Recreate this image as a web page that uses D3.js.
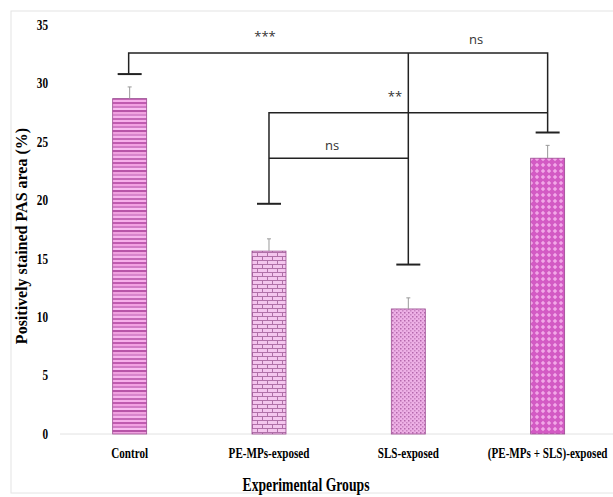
<!DOCTYPE html>
<html>
<head>
<meta charset="utf-8">
<script src="https://cdn.jsdelivr.net/npm/d3@7"></script>
<style>
  body { margin: 0; background: #fff; }
  text { font-family: "Liberation Serif", "Times New Roman", serif; }
  text.sig { font-family: "Open Sans", "DejaVu Sans", sans-serif; }
</style>
</head>
<body>
<svg id="chart" width="613" height="497"></svg>
<script>
const groups = ["Control", "PE-MPs-exposed", "SLS-exposed", "(PE-MPs + SLS)-exposed"];
const means = [28.7, 15.65, 10.7, 23.6];
const errors = [1.0, 1.05, 0.95, 1.1];
const yTicks = [0, 5, 10, 15, 20, 25, 30, 35];
const patternIds = ["p-stripes", "p-brick", "p-dots", "p-diamond"];

// significance: cap heights per bar, bracket levels and labels
const caps = [30.8, 19.7, 14.5, 25.8];
const sigLabels = [
  { label: "***", lx: 265, ly: 34.0 },
  { label: "ns", lx: 476, ly: 33.8 },
  { label: "**", lx: 395, ly: 28.9 },
  { label: "ns", lx: 332, ly: 24.7 }
];

const svg = d3.select("#chart");

const x = d3.scaleBand()
  .domain(groups)
  .range([60, 617.3])
  .paddingInner(0.756)
  .paddingOuter(0.378);

const y = d3.scaleLinear()
  .domain([0, 35])
  .range([434, 25]);

// frame
svg.append("rect")
  .attr("x", 11).attr("y", 11)
  .attr("width", 610).attr("height", 482)
  .attr("fill", "none")
  .attr("stroke", "#e4e4e4");

// patterns
const defs = svg.append("defs");

const p1 = defs.append("pattern").attr("id", patternIds[0])
  .attr("patternUnits", "userSpaceOnUse").attr("width", 8).attr("height", 20);
const stripeCols = ["#f6aeea", "#c05ab0", "#f2a0e2", "#d27ac6", "#f8bcf0", "#b854a8", "#f0a2e0", "#d884cc", "#f6b4ec", "#c466b6"];
stripeCols.forEach((c, i) => {
  p1.append("rect").attr("x", 0).attr("y", i * 2).attr("width", 8).attr("height", 2).attr("fill", c);
});

const p2 = defs.append("pattern").attr("id", patternIds[1])
  .attr("patternUnits", "userSpaceOnUse").attr("width", 10).attr("height", 8);
p2.append("rect").attr("width", 10).attr("height", 8).attr("fill", "#f4c6ee");
p2.append("path").attr("d", "M0,0.5H10M0,4.5H10M2.5,0V4.5M7.5,4.5V8")
  .attr("stroke", "#b070a8").attr("stroke-width", 1).attr("fill", "none");

const p3 = defs.append("pattern").attr("id", patternIds[2])
  .attr("patternUnits", "userSpaceOnUse").attr("width", 4).attr("height", 4);
p3.append("rect").attr("width", 4).attr("height", 4).attr("fill", "#eeb0e6");
p3.append("rect").attr("x", 0).attr("y", 0).attr("width", 1.5).attr("height", 1.5).attr("fill", "#b468ac");
p3.append("rect").attr("x", 2).attr("y", 2).attr("width", 1.5).attr("height", 1.5).attr("fill", "#c884c0");

const p4 = defs.append("pattern").attr("id", patternIds[3])
  .attr("patternUnits", "userSpaceOnUse").attr("width", 6).attr("height", 6);
p4.append("rect").attr("width", 6).attr("height", 6).attr("fill", "#d35ac4");
p4.append("path").attr("d", "M3,0.8L5.2,3L3,5.2L0.8,3Z").attr("fill", "#f2a8e8");

// y tick labels (no axis line)
svg.append("g")
  .selectAll("text")
  .data(yTicks)
  .join("text")
  .attr("transform", d => `translate(48,${y(d)}) scale(0.8,1)`)
  .attr("dy", "0.35em")
  .attr("text-anchor", "end")
  .attr("font-size", 14)
  .attr("font-weight", "bold")
  .text(d => d);

// baseline
svg.append("line")
  .attr("x1", 60).attr("x2", 613)
  .attr("y1", y(0)).attr("y2", y(0))
  .attr("stroke", "#e2e2e2");

// bars
svg.append("g")
  .selectAll("rect")
  .data(groups)
  .join("rect")
  .attr("x", d => x(d))
  .attr("y", (d, i) => y(means[i]))
  .attr("width", x.bandwidth())
  .attr("height", (d, i) => y(0) - y(means[i]))
  .attr("fill", (d, i) => `url(#${patternIds[i]})`)
  .attr("stroke", "#9a4c90")
  .attr("stroke-width", 0.8);

// error bars
const cx = d => x(d) + x.bandwidth() / 2;
const eb = svg.append("g").attr("stroke", "#9a9a9a").attr("stroke-width", 1);
groups.forEach((g, i) => {
  eb.append("line")
    .attr("x1", cx(g)).attr("x2", cx(g))
    .attr("y1", y(means[i])).attr("y2", y(means[i] + errors[i]));
  eb.append("line")
    .attr("x1", cx(g) - 2).attr("x2", cx(g) + 2)
    .attr("y1", y(means[i] + errors[i])).attr("y2", y(means[i] + errors[i]));
});

// significance lines
const sig = svg.append("g").attr("stroke", "#222").attr("stroke-width", 1.5).attr("fill", "none");
groups.forEach((g, i) => {
  sig.append("line")
    .attr("x1", cx(g) - 12).attr("x2", cx(g) + 12)
    .attr("y1", y(caps[i])).attr("y2", y(caps[i]))
    .attr("stroke-width", 2);
});
sig.append("path").attr("d",
  `M${cx(groups[0]) - 1},${y(caps[0])}V${y(32.6)}H${cx(groups[3])}V${y(caps[3])}`);
sig.append("path").attr("d",
  `M${cx(groups[2])},${y(32.6)}V${y(caps[2])}`);
sig.append("path").attr("d",
  `M${cx(groups[1])},${y(caps[1])}V${y(27.5)}H${cx(groups[3])}`);
sig.append("path").attr("d",
  `M${cx(groups[1])},${y(23.6)}H${cx(groups[2])}`);

svg.append("g")
  .selectAll("text")
  .data(sigLabels)
  .join("text")
  .attr("class", "sig")
  .attr("x", d => d.lx)
  .attr("y", d => y(d.ly))
  .attr("dy", "0.35em")
  .attr("text-anchor", "middle")
  .attr("font-size", 13)
  .attr("fill", "#333")
  .text(d => d.label);

// category labels
svg.append("g")
  .selectAll("text")
  .data(groups)
  .join("text")
  .attr("transform", d => `translate(${cx(d)},458) scale(0.74,1)`)
  .attr("text-anchor", "middle")
  .attr("font-size", 15)
  .attr("font-weight", "bold")
  .text(d => d);

// axis titles
svg.append("text")
  .attr("transform", "translate(306,491) scale(0.76,1)")
  .attr("text-anchor", "middle")
  .attr("font-size", 18)
  .attr("font-weight", "bold")
  .text("Experimental Groups");

svg.append("text")
  .attr("transform", "translate(27,236) rotate(-90)")
  .attr("text-anchor", "middle")
  .attr("font-size", 16)
  .attr("font-weight", "bold")
  .text("Positively stained PAS area (%)");
</script>
</body>
</html>
